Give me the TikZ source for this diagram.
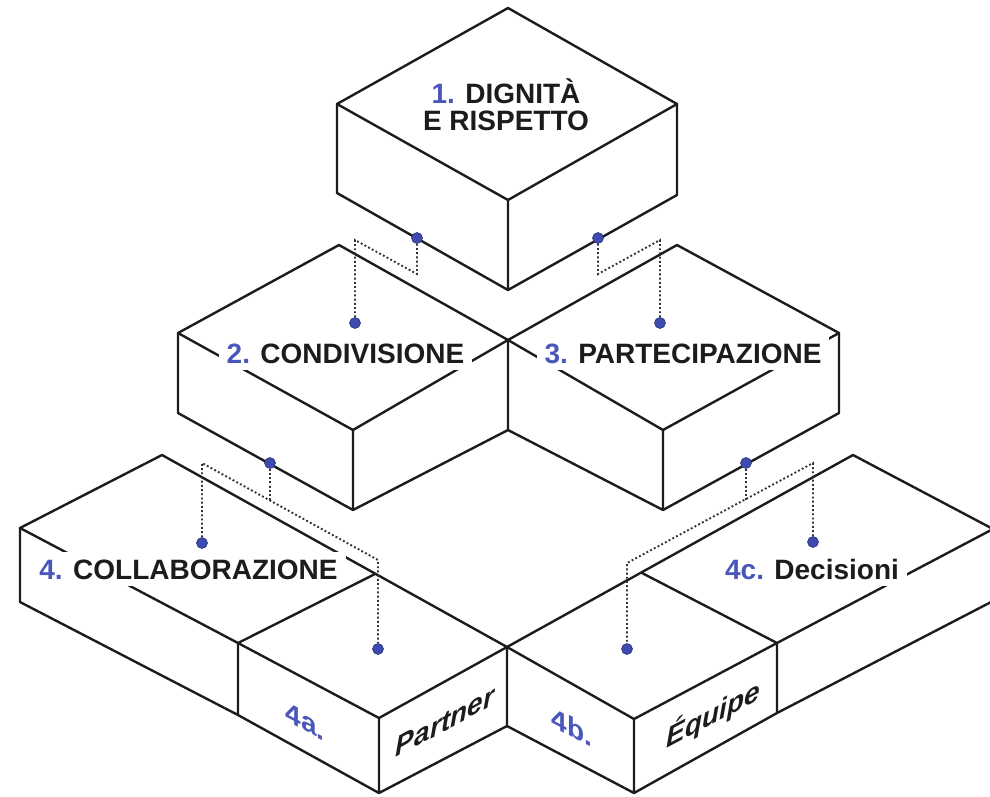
\documentclass[tikz,border=0pt]{standalone}
\usepackage{fontspec}
\setmainfont{Liberation Sans}
\usetikzlibrary{positioning}

\definecolor{ink}{HTML}{1C1C1C}
\definecolor{numblue}{HTML}{4A56B9}
\definecolor{dotblue}{HTML}{3E4AAE}
\definecolor{leadgray}{HTML}{333333}
\newcommand{\nb}[1]{\textcolor{numblue}{#1}}

\begin{document}
\begin{tikzpicture}[
  x=1pt, y=-1pt,
  edge/.style={draw=ink, line width=2.4pt, line join=round, line cap=round},
  leader/.style={draw=leadgray, line width=1.9pt, dash pattern=on 1.9pt off 2.3pt},
  dot/.style={circle, fill=dotblue, draw=dotblue!70!black, line width=0.6pt, minimum size=11pt, inner sep=0pt},
  tag/.style={font=\fontsize{28}{27}\selectfont\bfseries, text=ink, fill=white, inner xsep=8pt, inner ysep=7pt},
  facetag/.style={font=\fontsize{28}{28}\selectfont\bfseries, text=ink, inner sep=0pt, anchor=base},
]
  \clip (0,0) rectangle (990,796);

  % Box 1 (top)
  \coordinate (t1) at (508,8);
  \coordinate (l1) at (337,104);
  \coordinate (r1) at (677,104);
  \coordinate (f1) at (508,200);
  \coordinate (l1b) at (337,193);
  \coordinate (r1b) at (677,195);
  \coordinate (f1b) at (508,290);
  \draw[edge] (t1) -- (l1) -- (f1) -- (r1) -- cycle;
  \draw[edge] (l1) -- (l1b) -- (f1b) -- (r1b) -- (r1) (f1) -- (f1b);

  % Box 2
  \coordinate (t2) at (339,245);
  \coordinate (l2) at (178,333);
  \coordinate (r2) at (508,340);
  \coordinate (f2) at (353,430);
  \coordinate (l2b) at (178,413);
  \coordinate (f2b) at (353,510);
  \coordinate (r2b) at (508,430);
  \draw[edge] (f2) -- (l2) -- (t2) -- (r2) -- cycle;
  \draw[edge] (l2) -- (l2b) -- (f2b) -- (r2b) -- (r2) (f2) -- (f2b);

  % Box 3
  \coordinate (t3) at (677,245);
  \coordinate (r3) at (839,333);
  \coordinate (f3) at (663,430);
  \coordinate (r3b) at (839,413);
  \coordinate (f3b) at (663,510);
  \draw[edge] (r2) -- (t3) -- (r3) -- (f3) -- cycle;
  \draw[edge] (r2b) -- (f3b) -- (r3b) -- (r3) (f3) -- (f3b);

  % Box 4 (4 + 4a)
  \coordinate (t4) at (162,455);
  \coordinate (l4) at (20,528);
  \coordinate (d4) at (238,643);
  \coordinate (f4) at (379,718);
  \coordinate (r4) at (507,647);
  \coordinate (k4) at (375,574);
  \coordinate (l4b) at (20,602);
  \coordinate (d4b) at (238,715);
  \coordinate (f4b) at (379,793);
  \coordinate (r4b) at (507,726);
  \draw[edge] (l4) -- (t4) -- (r4) -- (f4) -- (d4) -- cycle;
  \draw[edge] (d4) -- (k4);
  \draw[edge] (l4) -- (l4b) -- (d4b) -- (f4b) -- (r4b) -- (r4) (d4) -- (d4b) (f4) -- (f4b);

  % Box 5 (4b + 4c)
  \coordinate (t5) at (853,455);
  \coordinate (r5) at (993,529);
  \coordinate (d5) at (777,643);
  \coordinate (f5) at (634,719);
  \coordinate (k5) at (642,573);
  \coordinate (r5b) at (993,601);
  \coordinate (d5b) at (777,713);
  \coordinate (f5b) at (634,793);
  \draw[edge] (r4) -- (t5) -- (r5) -- (d5) -- (f5) -- cycle;
  \draw[edge] (d5) -- (k5);
  \draw[edge] (r4b) -- (f5b) -- (d5b) -- (r5b) -- (r5) (f5) -- (f5b) (d5) -- (d5b);

  % Labels
  \node[font=\fontsize{28}{27}\selectfont\bfseries, text=ink, align=center, anchor=base] (lab1) at (506,130) {\nb{1.} DIGNITÀ\\E RISPETTO};
  \node[tag, anchor=base] (lab2) at (345.5,363) {\nb{2.} CONDIVISIONE};
  \node[tag, anchor=base] (lab3) at (683,363) {\nb{3.} PARTECIPAZIONE};
  \node[tag, anchor=base] (lab4) at (188.5,579) {\nb{4.} COLLABORAZIONE};
  \node[tag, anchor=base] (lab4c) at (812,579) {\nb{4c.} Decisioni};

  % Face labels
  \node[facetag, text=numblue, yslant=-0.53] (lab4a) at (305,731) {4a.};
  \node[facetag, font=\fontsize{28}{28}\selectfont\bfseries\itshape, yslant=0.55] (part) at (445,731) {Partner};
  \node[facetag, text=numblue, yslant=-0.53] (lab4b) at (572,737) {4b.};
  \node[facetag, font=\fontsize{28}{28}\selectfont\bfseries\itshape, yslant=0.53] (equi) at (713,724) {Équipe};

  % Dots
  \node[dot] (p1l) at (417,238) {};
  \node[dot] (p1r) at (598,238) {};
  \node[dot] (p2t) at (355,323) {};
  \node[dot] (p3t) at (660,323) {};
  \node[dot] (p2b) at (270,463) {};
  \node[dot] (p3b) at (746,463) {};
  \node[dot] (p4) at (202,543) {};
  \node[dot] (p4a) at (378,649) {};
  \node[dot] (p4b) at (627,649) {};
  \node[dot] (p4c) at (813,542) {};

  % Leaders
  \coordinate (a1) at (417,274);
  \coordinate (a2) at (355,240);
  \coordinate (b1) at (598,274);
  \coordinate (b2) at (660,240);
  \coordinate (c0) at (270,500);
  \coordinate (c1) at (202,463);
  \coordinate (c2) at (378,560);
  \coordinate (e0) at (746,500);
  \coordinate (e1) at (813,463);
  \coordinate (e2) at (627,563);
  \draw[leader] (p1l) -- (a1) -- (a2) -- (p2t);
  \draw[leader] (p1r) -- (b1) -- (b2) -- (p3t);
  \draw[leader] (p4) -- (c1) -- (c2) -- (p4a);
  \draw[leader] (p2b) -- (c0);
  \draw[leader] (p4c) -- (e1) -- (e2) -- (p4b);
  \draw[leader] (p3b) -- (e0);
\end{tikzpicture}
\end{document}
